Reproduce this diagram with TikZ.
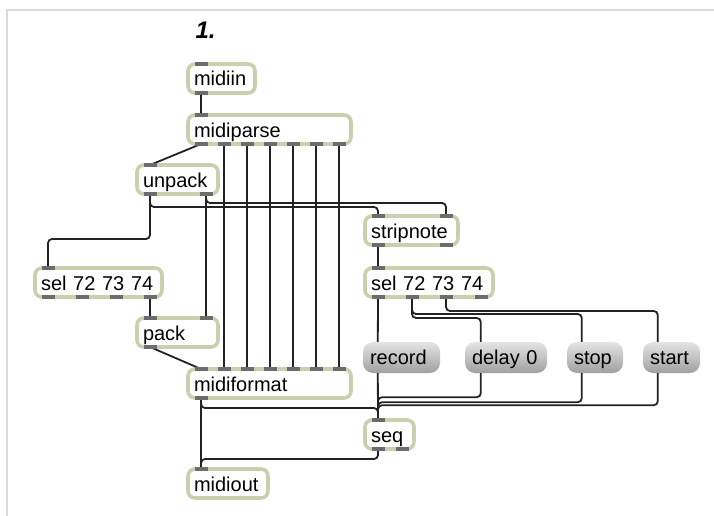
\documentclass[tikz,border=0pt]{standalone}
\usepackage{fontspec}
\setmainfont{Liberation Sans}
\definecolor{framegray}{RGB}{218,218,218}
\definecolor{objedge}{RGB}{200,209,173}
\definecolor{portgray}{RGB}{108,108,108}
\definecolor{wirecol}{RGB}{34,34,34}
\definecolor{msgtop}{RGB}{228,228,228}
\definecolor{msgbot}{RGB}{160,160,160}
\pgfdeclarelayer{ports}
\pgfsetlayers{main,ports}
% object box: name, left, top, right, bottom, text
\newcommand\maxobj[6]{%
  \pgfmathsetmacro\bw{#4-#2-4}\pgfmathsetmacro\bh{#5-#3-4}\pgfmathsetmacro\tw{#4-#2-4-12}%
  \node[objbox, minimum width=\bw pt, minimum height=\bh pt, text width=\tw pt]
    (#1) at ({(#2+#4)/2},{(#3+#5)/2}) {#6};}
% message box: name, left, top, right, bottom, text
\newcommand\maxmsg[6]{%
  \pgfmathsetmacro\bw{#4-#2}\pgfmathsetmacro\bh{#5-#3}\pgfmathsetmacro\tw{#4-#2-14}%
  \node[msgbox, minimum width=\bw pt, minimum height=\bh pt, text width=\tw pt]
    (#1) at ({(#2+#4)/2},{(#3+#5)/2}) {#6};}
\begin{document}
\begin{tikzpicture}[x=1pt,y=-1pt,
  objbox/.style={draw=objedge, line width=3.6pt, fill=white, rounded corners=7pt,
    inner xsep=6pt, inner ysep=2pt, text height=15pt, text depth=0pt, align=left,
    font=\fontsize{20}{24}\selectfont},
  msgbox/.style={draw=none, rounded corners=10pt, top color=msgtop, bottom color=msgbot,
    inner xsep=7pt, inner ysep=2pt, text height=14pt, text depth=1pt, align=left,
    font=\fontsize{20}{24}\selectfont},
  port/.style={draw=none, fill=portgray, minimum width=13pt, minimum height=4.5pt,
    inner sep=0pt},
  wire/.style={draw=wirecol, line width=1.8pt, rounded corners=4pt},
  framestyle/.style={draw=framegray, line width=2pt}]
\useasboundingbox (0,0) rectangle (714,516);
\draw[framestyle] (7,516) -- (7,10) -- (714,10);

\node[anchor=base west, font=\fontsize{24}{28}\selectfont\bfseries\itshape] (title) at (192,39) {1.};

% objects
\maxobj{midiin}{186}{62}{257}{95}{midiin}
\maxobj{midiparse}{186}{113}{353}{146}{midiparse}
\maxobj{unpack}{135}{163}{220}{196}{unpack}
\maxobj{selL}{33}{266}{164}{299}{sel 72 73 74}
\maxobj{pack}{135}{316}{220}{349}{pack}
\maxobj{midiformat}{186}{367}{353}{400}{midiformat}
\maxobj{seq}{363}{418}{416}{451}{seq}
\maxobj{midiout}{186}{467}{270}{500}{midiout}
\maxobj{stripnote}{363}{214}{460}{247}{stripnote}
\maxobj{selR}{363}{266}{495}{299}{sel 72 73 74}

% messages
\maxmsg{record}{363}{342}{440}{373}{record}
\maxmsg{dly}{465}{342}{547}{373}{delay 0}
\maxmsg{stop}{567}{342}{623}{373}{stop}
\maxmsg{start}{643}{342}{700}{373}{start}
\path (record.north west) ++(15,0) coordinate (recin);
\path (record.south west) ++(15,0) coordinate (recout);
\path (dly.north west) ++(16,0) coordinate (dlyin);
\path (dly.south west) ++(16,0) coordinate (dlyout);
\path (stop.north west) ++(15,0) coordinate (stopin);
\path (stop.south west) ++(15,0) coordinate (stopout);
\path (start.north west) ++(15,0) coordinate (startin);
\path (start.south west) ++(15,0) coordinate (startout);

% inlets and outlets
\begin{pgfonlayer}{ports}
\node[port] (mii) at (201,64) {};
\node[port] (mio) at (201,93) {};
\node[port] (mpi) at (201,115) {};
\foreach \k/\xx in {1/201,2/224,3/247,4/270,5/293,6/316,7/339}{
  \node[port] (mpo\k) at (\xx,144) {};
  \node[port] (mfi\k) at (\xx,369) {};
}
\node[port] (mfo) at (201,398) {};
\node[port] (upi) at (150,165) {};
\node[port] (upo1) at (150,194) {};
\node[port] (upo2) at (206,194) {};
\node[port] (sLi) at (48,268) {};
\foreach \k/\xx in {1/48,2/82,3/116,4/150}{
  \node[port] (sLo\k) at (\xx,297) {};
}
\node[port] (pki1) at (150,318) {};
\node[port] (pki2) at (206,318) {};
\node[port] (pko) at (150,347) {};
\node[port] (sni1) at (378,216) {};
\node[port] (sni2) at (446,216) {};
\node[port] (sno1) at (378,245) {};
\node[port] (sno2) at (446,245) {};
\node[port] (sRi) at (378,268) {};
\foreach \k/\xx in {1/378,2/412,3/446,4/481}{
  \node[port] (sRo\k) at (\xx,297) {};
}
\node[port] (seqi) at (378,420) {};
\node[port] (seqo1) at (378,449) {};
\node[port] (seqo2) at (402,449) {};
\node[port] (moi) at (201,469) {};
\end{pgfonlayer}

% patch cords
\draw[wire] (mio.center) -- (mpi.center);
\draw[wire] (mpo1.center) -- (upi.center);
\foreach \k in {2,...,7}{\draw[wire] (mpo\k.center) -- (mfi\k.center);}
\draw[wire] (upo1.center) -- ++(0,45) -| (sLi.center);
\draw[wire] (upo1.center) -- ++(0,13) -| (sni1.center);
\draw[wire] (upo2.center) -- ++(0,9) -| (sni2.center);
\draw[wire] (upo2.center) -- (pki2.center);
\draw[wire] (sLo4.center) -- (pki1.center);
\draw[wire] (pko.center) -- (mfi1.center);
\draw[wire] (sno1.center) -- (sRi.center);
\draw[wire] (sRo1.center) -- (recin);
\draw[wire] (sRo2.center) -- ++(0,21) -| (dlyin);
\draw[wire] (sRo2.center) -- ++(0,17) -| (stopin);
\draw[wire] (sRo3.center) -- ++(0,14) -| (startin);
\draw[wire] (recout) -- (seqi.center);
\draw[wire] (dlyout) -- ++(0,24) -| (seqi.center);
\draw[wire] (stopout) -- ++(0,29) -| (seqi.center);
\draw[wire] (startout) -- ++(0,32) -| (seqi.center);
\draw[wire] (mfo.center) -- ++(0,10) -| (seqi.center);
\draw[wire] (mfo.center) -- (moi.center);
\draw[wire] (seqo1.center) -- ++(0,10) -| (moi.center);
\end{tikzpicture}
\end{document}
